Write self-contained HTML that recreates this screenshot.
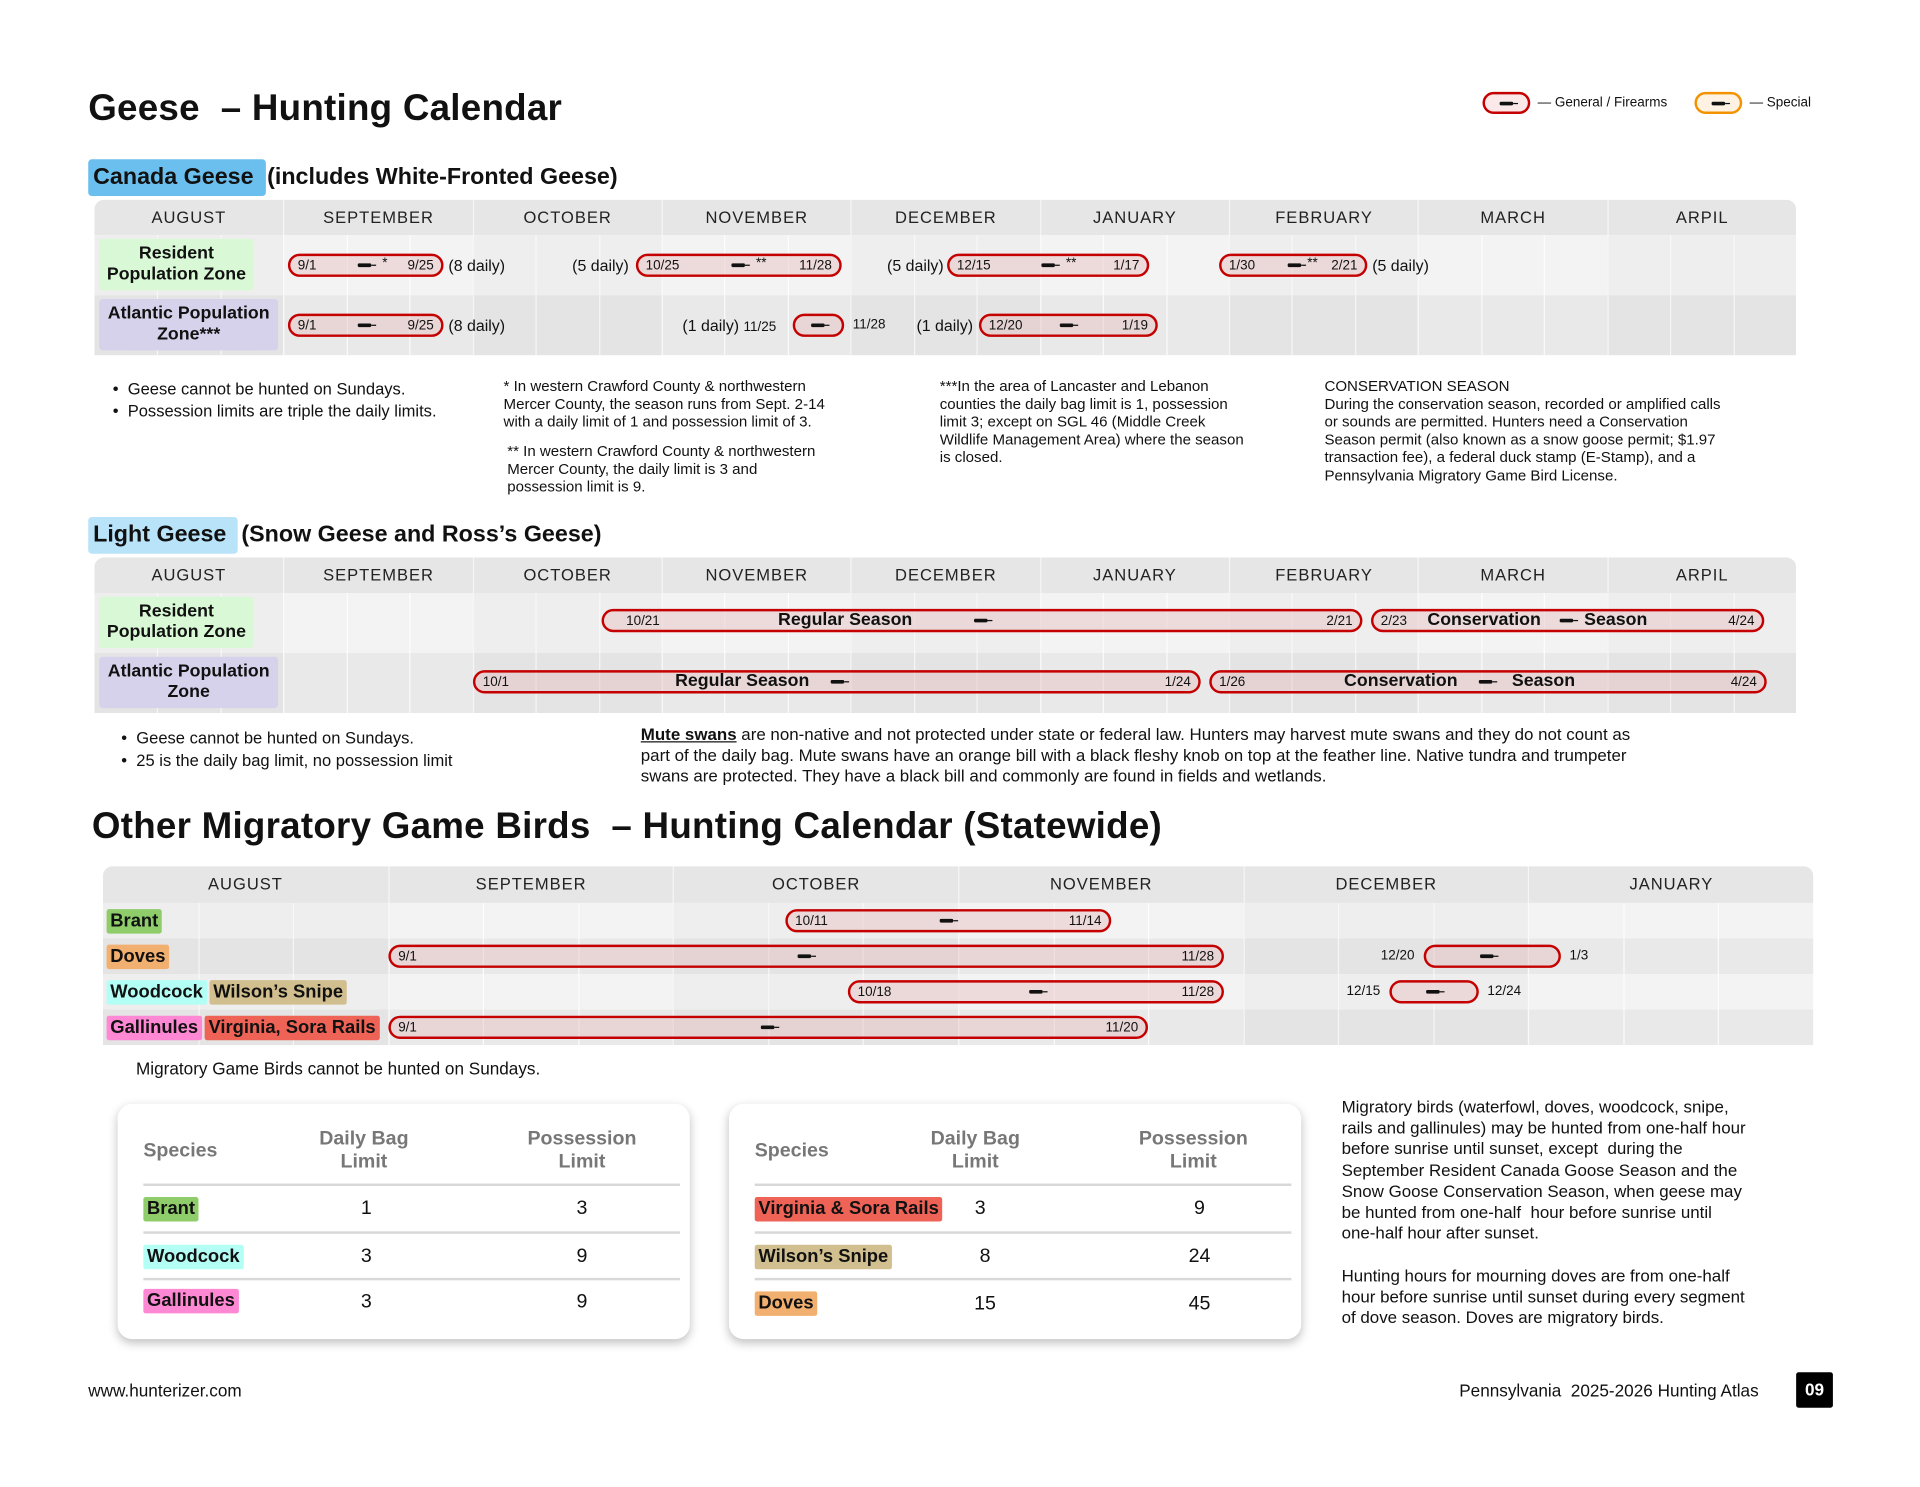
<!DOCTYPE html>
<html><head><meta charset="utf-8"><style>
*{box-sizing:border-box;margin:0;padding:0}
html,body{width:1920px;height:1486px;overflow:hidden;background:#fff}
body{font-family:"Liberation Sans",Arial,sans-serif;color:#111}
#w{position:absolute;left:0;top:0;width:1568px;height:1214px;transform:scale(1.2252);transform-origin:0 0}
.a{position:absolute;white-space:nowrap}
.h1{font-size:30px;font-weight:bold;letter-spacing:0.2px}
.sec{font-size:19px;font-weight:bold}
.tbl{position:absolute;border-radius:8px 8px 0 0;overflow:hidden}
.hdr{position:absolute;left:0;right:0;top:0;background:#e6e6e6}
.mon{position:absolute;top:0;text-align:center;font-size:13.5px;letter-spacing:0.8px;color:#222;border-left:1px solid #f6f6f6}
.row{position:absolute;left:0;right:0}
.sub{position:absolute;top:0;bottom:0;border-left:1px solid rgba(255,255,255,0.8)}
.lab{position:absolute;border-radius:3px;font-weight:bold;text-align:center;font-size:14.5px;line-height:17px;display:flex;align-items:center;justify-content:center}
.bar{position:absolute;height:19px;border:2px solid #c40000;border-radius:10px;background:rgba(230,190,190,0.45);font-size:11px}
.bar .l{position:absolute;left:6px;top:2px}
.bar .r{position:absolute;right:6px;top:2px}
.ic{position:absolute;top:6px;width:11px;height:3px;background:#111;border-radius:1px}
.ic:after{content:"";position:absolute;right:-4px;top:1px;width:4px;height:1px;background:#111}
.t{position:absolute;font-size:13px}
.note{position:absolute;font-size:12.3px;line-height:14.6px;color:#111}
.tag{display:inline-block;padding:0 3px;border-radius:2px;font-weight:bold;font-size:15px;line-height:20px}
.card{position:absolute;background:#fff;border-radius:12px;box-shadow:0 3px 8px rgba(0,0,0,0.25)}
.ch{position:absolute;color:#777;font-weight:bold;font-size:16px;line-height:19px;text-align:center}
.cl{position:absolute;height:2px;background:#d8d8d8}
.num{position:absolute;font-size:16px;transform:translateX(-50%)}
.bl{position:absolute;font-size:14px;line-height:18px}
</style></head><body><div id="w">

<div class="a h1" style="left:72px;top:72px">Geese &nbsp;– Hunting Calendar</div>

<div class="bar" style="left:1210px;top:75px;width:39px;height:18px;background:#fbe8e8"><div class="ic" style="left:12px"></div></div>
<div class="a" style="left:1255px;top:78px;font-size:11px">— General / Firearms</div>
<div class="bar" style="left:1383px;top:75px;width:39px;height:18px;border-color:#f39200;background:#fff2e2"><div class="ic" style="left:12px"></div></div>
<div class="a" style="left:1428px;top:78px;font-size:11px">— Special</div>

<div class="a sec" style="left:72px;top:130px;height:30px;width:145px;background:#6bbfee;border-radius:3px;padding:4px 0 0 4px">Canada Geese</div>
<div class="a sec" style="left:218px;top:134px">(includes White-Fronted Geese)</div>

<div class="tbl" style="left:77px;top:163px;width:1389px;height:127px">
  <div class="hdr" style="height:29px"></div>
  <div class="row" style="top:29px;height:49px;background:#f3f3f3"></div>
  <div class="row" style="top:78px;height:49px;background:#e9e9e9"></div>
</div>
<div id="cg"></div>

<div class="lab" style="left:81px;top:195px;width:126px;height:42px;background:#d9f9d6">Resident<br>Population Zone</div>
<div class="lab" style="left:81px;top:244px;width:146px;height:42px;background:#d6d2ec">Atlantic Population<br>Zone***</div>

<div class="bar" style="left:235px;top:207px;width:127px"><span class="l">9/1</span><div class="ic" style="left:55px"></div><span class="a" style="left:75px;top:0">*</span><span class="r">9/25</span></div>
<div class="t" style="left:366px;top:209px">(8 daily)</div>
<div class="t" style="left:467px;top:209px">(5 daily)</div>
<div class="bar" style="left:519px;top:207px;width:168px"><span class="l">10/25</span><div class="ic" style="left:76px"></div><span class="a" style="left:96px;top:0">**</span><span class="r">11/28</span></div>
<div class="t" style="left:724px;top:209px">(5 daily)</div>
<div class="bar" style="left:773px;top:207px;width:165px"><span class="l">12/15</span><div class="ic" style="left:75px"></div><span class="a" style="left:95px;top:0">**</span><span class="r">1/17</span></div>
<div class="bar" style="left:995px;top:207px;width:121px"><span class="l">1/30</span><div class="ic" style="left:54px"></div><span class="a" style="left:70px;top:0">**</span><span class="r">2/21</span></div>
<div class="t" style="left:1120px;top:209px">(5 daily)</div>

<div class="bar" style="left:235px;top:256px;width:127px"><span class="l">9/1</span><div class="ic" style="left:55px"></div><span class="r">9/25</span></div>
<div class="t" style="left:366px;top:258px">(8 daily)</div>
<div class="t" style="left:557px;top:258px">(1 daily) <span style="font-size:11px">11/25</span></div>
<div class="bar" style="left:647px;top:256px;width:42px"><div class="ic" style="left:13px"></div></div>
<div class="t" style="left:696px;top:259px;font-size:11px">11/28</div>
<div class="t" style="left:748px;top:258px">(1 daily)</div>
<div class="bar" style="left:799px;top:256px;width:146px"><span class="l">12/20</span><div class="ic" style="left:64px"></div><span class="r">1/19</span></div>

<div class="note" style="left:92px;top:309px;font-size:13.5px;line-height:18px">•&nbsp; Geese cannot be hunted on Sundays.<br>•&nbsp; Possession limits are triple the daily limits.</div>
<div class="note" style="left:411px;top:308px">* In western Crawford County &amp; northwestern<br>Mercer County, the season runs from Sept. 2-14<br>with a daily limit of 1 and possession limit of 3.</div>
<div class="note" style="left:414px;top:361px">** In western Crawford County &amp; northwestern<br>Mercer County, the daily limit is 3 and<br>possession limit is 9.</div>
<div class="note" style="left:767px;top:308px">***In the area of Lancaster and Lebanon<br>counties the daily bag limit is 1, possession<br>limit 3; except on SGL 46 (Middle Creek<br>Wildlife Management Area) where the season<br>is closed.</div>
<div class="note" style="left:1081px;top:308px">CONSERVATION SEASON<br>During the conservation season, recorded or amplified calls<br>or sounds are permitted. Hunters need a Conservation<br>Season permit (also known as a snow goose permit; $1.97<br>transaction fee), a federal duck stamp (E-Stamp), and a<br>Pennsylvania Migratory Game Bird License.</div>

<div class="a sec" style="left:72px;top:422px;height:30px;width:122px;background:#b9e3f9;border-radius:3px;padding:4px 0 0 4px">Light Geese</div>
<div class="a sec" style="left:197px;top:426px">(Snow Geese and Ross’s Geese)</div>
<div class="tbl" style="left:77px;top:455px;width:1389px;height:127px">
  <div class="hdr" style="height:29px"></div>
  <div class="row" style="top:29px;height:49px;background:#f3f3f3"></div>
  <div class="row" style="top:78px;height:49px;background:#e9e9e9"></div>
</div>
<div id="lg"></div>
<div class="lab" style="left:81px;top:487px;width:126px;height:42px;background:#d9f9d6">Resident<br>Population Zone</div>
<div class="lab" style="left:81px;top:536px;width:146px;height:42px;background:#d6d2ec">Atlantic Population<br>Zone</div>

<div class="bar" style="left:491px;top:497px;width:621px"><span class="l" style="left:18px">10/21</span><span class="a" style="left:142px;top:-1px;font-size:14.5px;font-weight:bold">Regular Season</span><div class="ic" style="left:302px"></div><span class="r">2/21</span></div>
<div class="bar" style="left:1119px;top:497px;width:321px"><span class="l">2/23</span><span class="a" style="left:44px;top:-1px;font-size:14.5px;font-weight:bold">Conservation</span><div class="ic" style="left:152px"></div><span class="a" style="left:172px;top:-1px;font-size:14.5px;font-weight:bold">Season</span><span class="r">4/24</span></div>
<div class="bar" style="left:386px;top:547px;width:594px"><span class="l">10/1</span><span class="a" style="left:163px;top:-1px;font-size:14.5px;font-weight:bold">Regular Season</span><div class="ic" style="left:290px"></div><span class="r">1/24</span></div>
<div class="bar" style="left:987px;top:547px;width:455px"><span class="l">1/26</span><span class="a" style="left:108px;top:-1px;font-size:14.5px;font-weight:bold">Conservation</span><div class="ic" style="left:218px"></div><span class="a" style="left:245px;top:-1px;font-size:14.5px;font-weight:bold">Season</span><span class="r">4/24</span></div>

<div class="note" style="left:99px;top:594px;font-size:13.5px;line-height:17.5px">•&nbsp; Geese cannot be hunted on Sundays.<br>•&nbsp; 25 is the daily bag limit, no possession limit</div>
<div class="note" style="left:523px;top:591px;font-size:13.8px;line-height:17px"><b style="text-decoration:underline">Mute swans</b> are non-native and not protected under state or federal law. Hunters may harvest mute swans and they do not count as<br>part of the daily bag. Mute swans have an orange bill with a black fleshy knob on top at the feather line. Native tundra and trumpeter<br>swans are protected. They have a black bill and commonly are found in fields and wetlands.</div>

<div class="a h1" style="left:75px;top:658px">Other Migratory Game Birds &nbsp;– Hunting Calendar (Statewide)</div>
<div class="tbl" style="left:84px;top:707px;width:1396px;height:146px">
  <div class="hdr" style="height:30px"></div>
  <div class="row" style="top:30px;height:29px;background:#f3f3f3"></div>
  <div class="row" style="top:59px;height:29px;background:#e9e9e9"></div>
  <div class="row" style="top:88px;height:29px;background:#f3f3f3"></div>
  <div class="row" style="top:117px;height:29px;background:#e9e9e9"></div>
</div>
<div id="om"></div>

<div class="a" style="left:87px;top:742px"><span class="tag" style="background:#8fcc6a">Brant</span></div>
<div class="a" style="left:87px;top:771px"><span class="tag" style="background:#f2b070">Doves</span></div>
<div class="a" style="left:87px;top:800px"><span class="tag" style="background:#b3fff5">Woodcock</span> <span class="tag" style="background:#d2bf8f;margin-left:-2px">Wilson’s Snipe</span></div>
<div class="a" style="left:87px;top:829px"><span class="tag" style="background:#ff88d4">Gallinules</span> <span class="tag" style="background:#ee6356;margin-left:-2px">Virginia, Sora Rails</span></div>

<div class="bar" style="left:641px;top:742px;width:266px"><span class="l">10/11</span><div class="ic" style="left:124px"></div><span class="r">11/14</span></div>
<div class="bar" style="left:317px;top:771px;width:682px"><span class="l">9/1</span><div class="ic" style="left:332px"></div><span class="r">11/28</span></div>
<div class="t" style="left:1127px;top:774px;font-size:11px">12/20</div>
<div class="bar" style="left:1162px;top:771px;width:112px"><div class="ic" style="left:44px"></div></div>
<div class="t" style="left:1281px;top:774px;font-size:11px">1/3</div>
<div class="bar" style="left:692px;top:800px;width:307px"><span class="l">10/18</span><div class="ic" style="left:146px"></div><span class="r">11/28</span></div>
<div class="t" style="left:1099px;top:803px;font-size:11px">12/15</div>
<div class="bar" style="left:1134px;top:800px;width:73px"><div class="ic" style="left:28px"></div></div>
<div class="t" style="left:1214px;top:803px;font-size:11px">12/24</div>
<div class="bar" style="left:317px;top:829px;width:620px"><span class="l">9/1</span><div class="ic" style="left:302px"></div><span class="r">11/20</span></div>

<div class="t" style="left:111px;top:864px;font-size:14px">Migratory Game Birds cannot be hunted on Sundays.</div>

<div class="card" style="left:96px;top:901px;width:467px;height:192px">
  <div class="ch" style="left:21px;top:29px">Species</div>
  <div class="ch" style="left:141px;top:19px;width:120px">Daily Bag<br>Limit</div>
  <div class="ch" style="left:319px;top:19px;width:120px">Possession<br>Limit</div>
  <div class="cl" style="left:21px;right:8px;top:65px"></div>
  <div class="cl" style="left:21px;right:8px;top:104px"></div>
  <div class="cl" style="left:21px;right:8px;top:142px"></div>
  <div class="a" style="left:21px;top:76px"><span class="tag" style="background:#8fcc6a">Brant</span></div>
  <div class="a" style="left:21px;top:115px"><span class="tag" style="background:#b3fff5">Woodcock</span></div>
  <div class="a" style="left:21px;top:151px"><span class="tag" style="background:#ff88d4">Gallinules</span></div>
  <div class="num" style="left:203px;top:77px">1</div><div class="num" style="left:379px;top:77px">3</div>
  <div class="num" style="left:203px;top:116px">3</div><div class="num" style="left:379px;top:116px">9</div>
  <div class="num" style="left:203px;top:153px">3</div><div class="num" style="left:379px;top:153px">9</div>
</div>
<div class="card" style="left:595px;top:901px;width:467px;height:192px">
  <div class="ch" style="left:21px;top:29px">Species</div>
  <div class="ch" style="left:141px;top:19px;width:120px">Daily Bag<br>Limit</div>
  <div class="ch" style="left:319px;top:19px;width:120px">Possession<br>Limit</div>
  <div class="cl" style="left:21px;right:8px;top:65px"></div>
  <div class="cl" style="left:21px;right:8px;top:104px"></div>
  <div class="cl" style="left:21px;right:8px;top:142px"></div>
  <div class="a" style="left:21px;top:76px"><span class="tag" style="background:#ee6356">Virginia &amp; Sora Rails</span></div>
  <div class="a" style="left:21px;top:115px"><span class="tag" style="background:#d2bf8f">Wilson’s Snipe</span></div>
  <div class="a" style="left:21px;top:153px"><span class="tag" style="background:#f2b070">Doves</span></div>
  <div class="num" style="left:205px;top:77px">3</div><div class="num" style="left:384px;top:77px">9</div>
  <div class="num" style="left:209px;top:116px">8</div><div class="num" style="left:384px;top:116px">24</div>
  <div class="num" style="left:209px;top:155px">15</div><div class="num" style="left:384px;top:155px">45</div>
</div>

<div class="bl" style="left:1095px;top:895px;font-size:13.8px;line-height:17.2px">Migratory birds (waterfowl, doves, woodcock, snipe,<br>rails and gallinules) may be hunted from one-half hour<br>before sunrise until sunset, except &nbsp;during the<br>September Resident Canada Goose Season and the<br>Snow Goose Conservation Season, when geese may<br>be hunted from one-half &nbsp;hour before sunrise until<br>one-half hour after sunset.<br><br>Hunting hours for mourning doves are from one-half<br>hour before sunrise until sunset during every segment<br>of dove season. Doves are migratory birds.</div>

<div class="t" style="left:72px;top:1127px;font-size:14px">www.hunterizer.com</div>
<div class="t" style="left:1191px;top:1127px;font-size:14px">Pennsylvania &nbsp;2025-2026 Hunting Atlas</div>
<div class="a" style="left:1466px;top:1120px;width:30px;height:29px;background:#000;color:#fff;font-weight:bold;font-size:14px;text-align:center;line-height:29px;border-radius:2px">09</div>

</div>
<script>
function grid(id,x,y,w,hh,h,months){
  var el=document.getElementById(id),n=months.length,cw=w/n,s='';
  for(var i=0;i<n;i++){
    var L=x+i*cw;
    s+='<div class="mon" style="left:'+L+'px;top:'+y+'px;width:'+cw+'px;height:'+hh+'px;line-height:'+hh+'px;'+(i==0?'border-left:none':'')+'">'+months[i]+'</div>';
    for(var k=0;k<3;k++){
      var sx=L+k*cw/3; if(i==0&&k==0)continue;
      s+='<div class="sub" style="left:'+sx+'px;top:'+(y+hh)+'px;height:'+(h-hh)+'px;'+(k==0?'border-left-color:#fafafa':'')+'"></div>';
    }
    if(i%2==0) s+='<div class="a" style="left:'+L+'px;top:'+(y+hh)+'px;width:'+cw+'px;height:'+(h-hh)+'px;background:rgba(0,0,0,0.018)"></div>';
  }
  el.innerHTML=s;
}
grid('cg',77,163,1389,29,127,['AUGUST','SEPTEMBER','OCTOBER','NOVEMBER','DECEMBER','JANUARY','FEBRUARY','MARCH','ARPIL']);
grid('lg',77,455,1389,29,127,['AUGUST','SEPTEMBER','OCTOBER','NOVEMBER','DECEMBER','JANUARY','FEBRUARY','MARCH','ARPIL']);
grid('om',84,707,1396,30,146,['AUGUST','SEPTEMBER','OCTOBER','NOVEMBER','DECEMBER','JANUARY']);
</script>
</body></html>
